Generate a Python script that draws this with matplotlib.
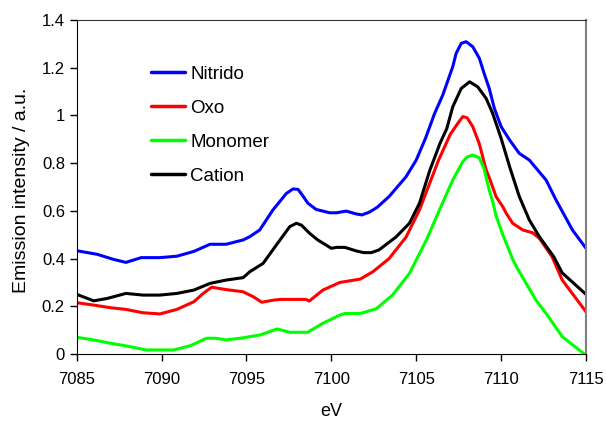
import matplotlib
matplotlib.use("Agg")
import matplotlib.pyplot as plt

plt.rcParams['font.family'] = ['Liberation Sans', 'DejaVu Sans']

# Energies (eV) and intensities
nitrido_x = [7085, 7086.2, 7087.15, 7087.9, 7088.8, 7089.9, 7090.9, 7091.9, 7092.85, 7093.8,
             7094.8, 7095.2, 7095.78, 7096.56, 7097.35, 7097.74, 7098.04, 7098.3, 7098.62, 7099.1,
             7099.9, 7100.3, 7100.88, 7101.47, 7101.8, 7102.25, 7102.7, 7103.4, 7104.4, 7105.0,
             7105.55, 7106.08, 7106.56, 7107.15, 7107.35, 7107.65, 7107.94, 7108.33, 7108.72, 7109.0,
             7109.3, 7109.6, 7110.0, 7110.5, 7111.07, 7111.66, 7112.65, 7113.24, 7114.2, 7115]
nitrido_y = [0.433, 0.418, 0.397, 0.384, 0.404, 0.404, 0.41, 0.43, 0.46, 0.46,
             0.478, 0.492, 0.52, 0.604, 0.673, 0.692, 0.69, 0.665, 0.632, 0.606,
             0.592, 0.592, 0.599, 0.587, 0.583, 0.595, 0.615, 0.66, 0.743, 0.813,
             0.905, 1.008, 1.085, 1.204, 1.26, 1.302, 1.309, 1.288, 1.239, 1.176,
             1.113, 1.03, 0.953, 0.897, 0.841, 0.813, 0.729, 0.645, 0.52, 0.443]

oxo_x = [7085, 7086, 7087, 7087.9, 7088.9, 7089.9, 7090.9, 7091.9, 7092.45, 7092.95,
         7093.8, 7094.8, 7095.4, 7095.9, 7096.6, 7097.0, 7097.8, 7098.5, 7098.7, 7099.5,
         7100.5, 7101.7, 7102.45, 7103.4, 7104.4, 7105.19, 7106.3, 7107.0, 7107.45, 7107.74,
         7108.0, 7108.33, 7108.72, 7109.12, 7109.3, 7109.7, 7110.1, 7110.3, 7110.68, 7111.27,
         7111.86, 7112.25, 7113.0, 7113.6, 7115]
oxo_y = [0.215, 0.205, 0.194, 0.187, 0.173, 0.168, 0.187, 0.219, 0.254, 0.28,
         0.27, 0.261, 0.24, 0.217, 0.226, 0.229, 0.229, 0.229, 0.222, 0.268,
         0.30, 0.314, 0.345, 0.40, 0.49, 0.604, 0.81, 0.92, 0.967, 0.995,
         0.99, 0.953, 0.88, 0.771, 0.74, 0.66, 0.617, 0.59, 0.548, 0.52,
         0.508, 0.485, 0.408, 0.31, 0.177]

monomer_x = [7085, 7086, 7087, 7087.9, 7089.1, 7089.9, 7090.7, 7091.7, 7092.65, 7093.2,
             7093.8, 7094.8, 7095.8, 7096.8, 7097.55, 7098.6, 7099.5, 7100.5, 7100.8, 7101.7,
             7102.65, 7103.6, 7104.6, 7105.6, 7106.37, 7107.15, 7107.74, 7108.0, 7108.33, 7108.72,
             7109.0, 7109.3, 7109.5, 7109.7, 7110.1, 7110.7, 7110.9, 7112.05, 7112.65, 7113.6,
             7114.9, 7115]
monomer_y = [0.07, 0.059, 0.045, 0.034, 0.017, 0.017, 0.017, 0.035, 0.066, 0.066,
             0.059, 0.068, 0.08, 0.105, 0.091, 0.091, 0.129, 0.163, 0.17, 0.17,
             0.19, 0.247, 0.338, 0.478, 0.604, 0.729, 0.806, 0.826, 0.834, 0.822,
             0.775, 0.687, 0.64, 0.58, 0.50, 0.394, 0.366, 0.226, 0.17, 0.073,
             0.0, 0.0]

cation_x = [7085, 7086, 7086.8, 7087.9, 7088.9, 7089.9, 7090.9, 7091.9, 7092.85, 7093.8,
            7094.8, 7095.2, 7095.98, 7096.76, 7097.55, 7097.94, 7098.24, 7098.72, 7099.2, 7100.0,
            7100.3, 7100.8, 7101.47, 7101.9, 7102.35, 7102.8, 7103.8, 7104.6, 7105.19, 7105.8,
            7106.4, 7106.8, 7107.15, 7107.65, 7108.14, 7108.62, 7109.12, 7109.5, 7110.0, 7110.5,
            7111.07, 7111.66, 7112.25, 7113.1, 7113.6, 7115]
cation_y = [0.25, 0.223, 0.233, 0.254, 0.247, 0.247, 0.254, 0.268, 0.296, 0.31,
            0.32, 0.345, 0.38, 0.457, 0.534, 0.548, 0.54, 0.506, 0.478, 0.443,
            0.447, 0.447, 0.432, 0.425, 0.425, 0.436, 0.49, 0.548, 0.632, 0.77,
            0.883, 0.945, 1.036, 1.113, 1.141, 1.12, 1.071, 1.009, 0.904, 0.785,
            0.66, 0.562, 0.492, 0.408, 0.34, 0.25]

series = [("Nitrido", nitrido_x, nitrido_y, "#0000FF"),
          ("Oxo", oxo_x, oxo_y, "#FF0000"),
          ("Monomer", monomer_x, monomer_y, "#00FF00"),
          ("Cation", cation_x, cation_y, "#000000")]

xticks = [7085, 7090, 7095, 7100, 7105, 7110, 7115]
yticks = [0, 0.2, 0.4, 0.6, 0.8, 1.0, 1.2, 1.4]
yticklabels = ["0", "0.2", "0.4", "0.6", "0.8", "1", "1.2", "1.4"]

fig = plt.figure(figsize=(6.06, 4.21), dpi=100)
ax = fig.add_axes([0.1266, 0.1591, 0.967 - 0.1266, 0.9525 - 0.1591])

for name, xs, ys, c in series:
    ax.plot(xs, ys, color=c, lw=2.2, label=name,
            solid_joinstyle='round', solid_capstyle='round')

ax.set_xlim(7085, 7115)
ax.set_ylim(0, 1.4)
ax.set_xticks(xticks)
ax.set_yticks(yticks)
ax.set_yticklabels(yticklabels)
ax.tick_params(direction='out', length=5, width=1, labelsize=12, colors='black')
ax.tick_params(axis='x', pad=8)

ax.spines['left'].set_color('black')
ax.spines['bottom'].set_color('black')
ax.spines['top'].set_color('#333333')
ax.spines['right'].set_color('#808080')
ax.spines['right'].set_linewidth(1.5)

ax.set_xlabel("eV", fontsize=13)
ax.xaxis.set_label_coords(0.4993, -0.1467)
ax.set_ylabel("Emission intensity / a.u.", fontsize=14)
ax.yaxis.set_label_coords(-0.092, 0.491)

leg = ax.legend(loc='upper left', bbox_to_anchor=(0.146, 0.863), frameon=False,
                fontsize=13.5, handlelength=1.8, handletextpad=0.3, labelspacing=0.9,
                borderaxespad=0, borderpad=0)
for line in leg.get_lines():
    line.set_linewidth(2.5)

fig.savefig("out.png", dpi=100)
